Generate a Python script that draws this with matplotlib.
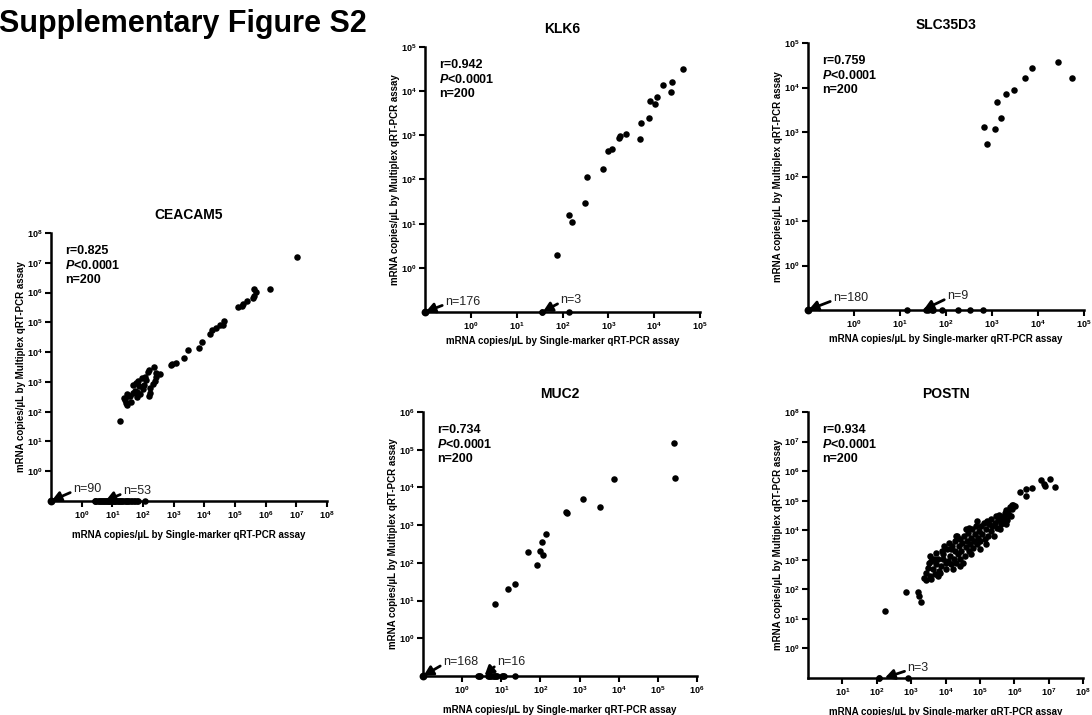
import numpy as np
import matplotlib
matplotlib.use('Agg')
import matplotlib.pyplot as plt
from matplotlib.ticker import FixedLocator, FuncFormatter, NullLocator

plt.rcParams['font.family'] = ['Liberation Sans', 'DejaVu Sans']
plt.rcParams['font.weight'] = 'bold'
plt.rcParams['mathtext.fontset'] = 'custom'
plt.rcParams['mathtext.default'] = 'regular'
plt.rcParams['mathtext.rm'] = 'Liberation Sans:bold'
plt.rcParams['mathtext.it'] = 'Liberation Sans:italic:bold'
plt.rcParams['mathtext.bf'] = 'Liberation Sans:bold'

# all values are log10(mRNA copies/uL)
# *_single / *_multi : detected by both assays
# *_single_only : detected by single-marker assay, multiplex = 0
# *_n_both_zero : samples at 0 in both assays

ceacam5_single = [7.02, 6.14, 5.62, 5.69, 5.62, 5.60, 5.38, 5.25, 5.11, 5.22,
                  4.64, 4.62, 4.51, 4.38, 4.24, 4.18, 3.91, 3.82, 3.47, 3.33,
                  3.06, 2.96, 2.92, 2.57, 2.42, 2.35, 2.19, 2.39, 2.31, 2.44,
                  2.06, 1.98, 2.03, 2.00, 2.22, 2.24, 2.20, 1.84, 1.68, 1.73,
                  1.81, 1.66, 1.59, 1.49, 1.62, 1.46, 1.41, 1.37, 1.51, 1.79,
                  1.90, 1.48, 1.24, 1.76, 2.17, 1.87, 2.11]
ceacam5_multi = [7.20, 6.12, 6.11, 6.01, 5.89, 5.81, 5.72, 5.62, 5.53, 5.55,
                 5.05, 4.92, 4.91, 4.80, 4.75, 4.62, 4.34, 4.14, 4.08, 3.80,
                 3.63, 3.60, 3.58, 3.27, 3.17, 3.50, 3.41, 3.02, 2.93, 3.30,
                 3.17, 3.13, 2.88, 2.76, 2.63, 2.80, 2.52, 3.02, 2.91, 2.69,
                 2.65, 2.63, 2.54, 2.61, 2.33, 2.30, 2.39, 2.46, 2.54, 2.50,
                 2.58, 2.24, 1.68, 2.97, 3.32, 2.85, 3.08]
ceacam5_single_only = [0.42, 0.45, 0.48, 0.52, 0.55, 0.60, 0.62, 0.66, 0.68, 0.72,
                       0.75, 0.78, 0.82, 0.85, 0.88, 0.90, 0.94, 0.98, 1.02, 1.05,
                       1.08, 1.10, 1.14, 1.18, 1.22, 1.25, 1.28, 1.32, 1.36, 1.40,
                       1.44, 1.48, 1.52, 1.55, 1.60, 1.65, 1.70, 1.75, 1.80, 1.84,
                       2.06]
ceacam5_n_both_zero = 90
ceacam5_n_multi_zero = 53
ceacam5_r = 0.825

klk6_single = [4.64, 4.39, 4.20, 4.36, 4.07, 4.02, 3.90, 3.88, 3.71, 3.69, 3.39,
               3.26, 3.24, 3.08, 3.00, 2.88, 2.53, 2.49, 2.15, 2.20, 1.89]
klk6_multi = [4.51, 4.21, 4.15, 3.97, 3.87, 3.71, 3.77, 3.40, 3.27, 2.91, 3.02,
              2.98, 2.94, 2.70, 2.64, 2.23, 2.06, 1.47, 1.20, 1.04, 0.29]
klk6_single_only = [1.56, 1.56, 2.15]
klk6_n_both_zero = 176
klk6_n_multi_zero = 3
klk6_r = 0.942

slc35d3_single = [4.44, 3.88, 4.73, 3.72, 3.48, 3.30, 3.10, 3.19, 3.07, 2.83, 2.90]
slc35d3_multi = [4.58, 4.44, 4.21, 4.21, 3.94, 3.85, 3.67, 3.31, 3.06, 3.12, 2.73]
slc35d3_single_only = [1.16, 1.57, 1.60, 1.69, 1.72, 1.91, 2.25, 2.52, 2.80]
slc35d3_n_both_zero = 180
slc35d3_n_multi_zero = 9
slc35d3_r = 0.759

muc2_single = [5.42, 5.45, 3.87, 3.08, 3.51, 2.65, 2.68, 2.14, 2.04, 1.98, 2.06,
               1.68, 1.91, 1.34, 1.16, 0.83]
muc2_multi = [5.19, 4.24, 4.23, 3.69, 3.49, 3.36, 3.32, 2.77, 2.54, 2.32, 2.21,
              2.30, 1.94, 1.45, 1.30, 0.90]
muc2_single_only = [0.41, 0.43, 0.45, 0.67, 0.69, 0.71, 0.74, 0.78, 0.81, 0.84,
                    0.87, 0.90, 1.03, 1.05, 1.07, 1.35]
muc2_n_both_zero = 168
muc2_n_multi_zero = 16
muc2_r = 0.734

postn_single = [3.37, 3.44, 3.49, 3.54, 3.59, 3.63, 3.68, 3.73, 3.78, 3.81, 3.73, 3.56,
                3.88, 3.93, 3.94, 4.00, 4.04, 4.07, 4.12, 4.17, 4.20, 4.24, 4.27, 4.29,
                4.31, 4.36, 4.39, 4.41, 4.43,
                4.46, 4.49, 4.53, 4.56, 4.59, 4.62, 4.65, 4.68, 4.70, 4.73, 4.77, 4.80, 4.82,
                4.85, 4.88, 4.92, 4.95, 4.97, 5.01, 5.04, 5.07, 5.11, 5.14, 5.17, 5.21,
                5.24, 5.27,
                5.31, 5.33, 5.36, 5.40, 5.43, 5.46, 5.50, 5.53, 5.56, 5.60, 5.64, 5.67,
                5.72, 5.75,
                5.79, 5.83, 5.87, 5.90, 5.94, 5.97, 6.01, 5.92,
                3.42, 3.51, 3.66, 3.83, 3.91, 3.97, 4.10, 4.15, 4.22, 4.33, 4.51, 4.61,
                4.75, 4.92, 4.99, 5.19, 5.58, 5.69, 5.77, 5.85, 4.68, 4.41, 4.31, 4.02,
                3.78, 3.59,
                2.86, 2.24, 3.20, 3.24, 3.29,
                6.79, 6.86, 7.03, 7.18, 6.53, 6.35, 6.16, 6.34, 6.89]
postn_multi = [2.40, 2.56, 2.73, 2.45, 2.96, 2.68, 2.51, 2.85, 3.04, 2.62, 3.24, 3.13,
               2.79, 3.01, 3.18, 2.70, 3.35, 2.96, 3.13, 2.85, 3.46, 3.04, 3.30, 3.63,
               2.90, 3.18, 3.46, 3.69, 3.01,
               3.30, 3.58, 3.80, 3.13, 3.44, 3.63, 3.91, 3.30, 3.52, 3.75, 4.03, 3.41, 3.63,
               3.86, 4.14, 3.52, 3.75, 3.97, 3.63, 4.14, 3.86, 4.25, 3.69, 4.03, 4.31,
               3.82, 4.20,
               3.97, 4.39, 4.14, 3.82, 4.25, 4.48, 4.08, 4.34, 4.53, 4.20, 4.42, 4.27,
               4.57, 4.70,
               4.36, 4.65, 4.79, 4.48, 4.72, 4.84, 4.81, 4.85,
               2.32, 2.88, 3.04, 2.56, 3.30, 3.46, 3.58, 3.35, 2.68, 3.82, 2.90, 4.03,
               3.18, 4.31, 3.35, 3.52, 4.03, 4.48, 4.20, 4.53, 4.08, 2.79, 3.80, 2.88,
               2.45, 2.34,
               1.92, 1.27, 1.92, 1.78, 1.57,
               5.69, 5.58, 5.75, 5.47, 5.43, 5.40, 5.29, 5.17, 5.51]
postn_single_only = [2.06, 2.06, 2.90]
postn_n_both_zero = 0
postn_n_multi_zero = 3
postn_r = 0.934

n_total = 200
p_text = '<0.0001'

xlab = 'mRNA copies/µL by Single-marker qRT-PCR assay'
ylab = 'mRNA copies/µL by Multiplex qRT-PCR assay'

W, H = 1092, 715
fig = plt.figure(figsize=(W / 100, H / 100), dpi=100)

fig.text(367 / W, 1 - 32 / H, 'Supplementary Figure S2', ha='right', va='baseline',
         fontsize=22, fontweight='bold')

panels = [
    dict(name='CEACAM5', box=(51, 233, 327, 501), xlo=-1, xhi=8, yhi=8,
         single=ceacam5_single, multi=ceacam5_multi, single_only=ceacam5_single_only,
         n0=ceacam5_n_both_zero, n1=ceacam5_n_multi_zero, r=ceacam5_r,
         arrow_x=0.76, off0=(22, 12), off1=(18, 10), xgap=29),
    dict(name='KLK6', box=(425, 47, 700, 312), xlo=-1, xhi=5, yhi=5,
         single=klk6_single, multi=klk6_multi, single_only=klk6_single_only,
         n0=klk6_n_both_zero, n1=klk6_n_multi_zero, r=klk6_r,
         arrow_x=1.56, off0=(20, 10), off1=(18, 12), xgap=24),
    dict(name='SLC35D3', box=(808, 43, 1084, 310), xlo=-1, xhi=5, yhi=5,
         single=slc35d3_single, multi=slc35d3_multi, single_only=slc35d3_single_only,
         n0=slc35d3_n_both_zero, n1=slc35d3_n_multi_zero, r=slc35d3_r,
         arrow_x=1.5, off0=(25, 12), off1=(24, 14), xgap=24),
    dict(name='MUC2', box=(423, 412, 697, 676), xlo=-1, xhi=6, yhi=6,
         single=muc2_single, multi=muc2_multi, single_only=muc2_single_only,
         n0=muc2_n_both_zero, n1=muc2_n_multi_zero, r=muc2_r,
         arrow_x=0.56, off0=(20, 14), off1=(13, 14), xgap=29),
    dict(name='POSTN', box=(808, 412, 1083, 678), xlo=0, xhi=8, yhi=8,
         single=postn_single, multi=postn_multi, single_only=postn_single_only,
         n0=postn_n_both_zero, n1=postn_n_multi_zero, r=postn_r,
         arrow_x=2.22, off0=None, off1=(23, 10), xgap=29),
]

fmt = FuncFormatter(lambda v, p: r'$10^{%d}$' % int(round(np.log10(v))))
floor = 10.0 ** -1


def n_arrow(ax, label, x, y, off):
    ax.annotate(label, xy=(x, y), xytext=off, textcoords='offset pixels',
                ha='left', va='center', fontsize=9, fontweight='normal', color='#222222',
                annotation_clip=False,
                arrowprops=dict(arrowstyle='-|>,head_length=0.55,head_width=0.3',
                                color='k', lw=2.0, mutation_scale=10,
                                shrinkA=0, shrinkB=0.5, relpos=(0, 0.3)))


for p in panels:
    l, t, rr, b = p['box']
    ax = fig.add_axes([l / W, 1 - b / H, (rr - l) / W, (b - t) / H])
    ax.set_xscale('log')
    ax.set_yscale('log')
    ax.set_xlim(10.0 ** p['xlo'], 10.0 ** p['xhi'])
    ax.set_ylim(floor, 10.0 ** p['yhi'])

    ax.scatter(10.0 ** np.array(p['single']), 10.0 ** np.array(p['multi']),
               s=22, c='k', linewidths=0, clip_on=False, zorder=3)
    xs = 10.0 ** np.array(p['single_only'])
    ax.scatter(xs, np.full(len(xs), floor), s=22, c='k', linewidths=0,
               clip_on=False, zorder=3)
    if p['n0'] > 0:
        ax.scatter([floor], [floor], s=32, c='k', linewidths=0, clip_on=False, zorder=3)
        n_arrow(ax, 'n=%d' % p['n0'], floor, floor, p['off0'])
    n_arrow(ax, 'n=%d' % p['n1'], 10.0 ** p['arrow_x'], floor, p['off1'])

    ax.xaxis.set_major_locator(FixedLocator([10.0 ** k for k in range(p['xlo'] + 1, p['xhi'] + 1)]))
    ax.yaxis.set_major_locator(FixedLocator([10.0 ** k for k in range(0, p['yhi'] + 1)]))
    ax.xaxis.set_minor_locator(NullLocator())
    ax.yaxis.set_minor_locator(NullLocator())
    ax.xaxis.set_major_formatter(fmt)
    ax.yaxis.set_major_formatter(fmt)
    ax.tick_params(axis='both', direction='out', length=4, width=1.5, labelsize=6.5)
    ax.tick_params(axis='x', pad=2)
    ax.tick_params(axis='y', pad=2)

    for s in ['top', 'right']:
        ax.spines[s].set_visible(False)
    for s in ['left', 'bottom']:
        ax.spines[s].set_linewidth(1.8)

    ax.set_title(p['name'], fontsize=10, fontweight='bold', pad=10)
    ax.set_xlabel(xlab, fontsize=7, fontweight='bold', va='top')
    ax.set_ylabel(ylab, fontsize=7, fontweight='bold')
    ax.xaxis.set_label_coords(0.5, -p['xgap'] / (b - t))
    ax.yaxis.set_label_coords(-25 / (rr - l), 0.5)

    ax.annotate('r=%.3f\n$\\mathit{P}$%s\nn=%d' % (p['r'], p_text, n_total),
                xy=(0, 1), xycoords='axes fraction', xytext=(14, -12),
                textcoords='offset pixels', ha='left', va='top', fontsize=9,
                fontweight='bold')

fig.savefig('out.png', dpi=100)
